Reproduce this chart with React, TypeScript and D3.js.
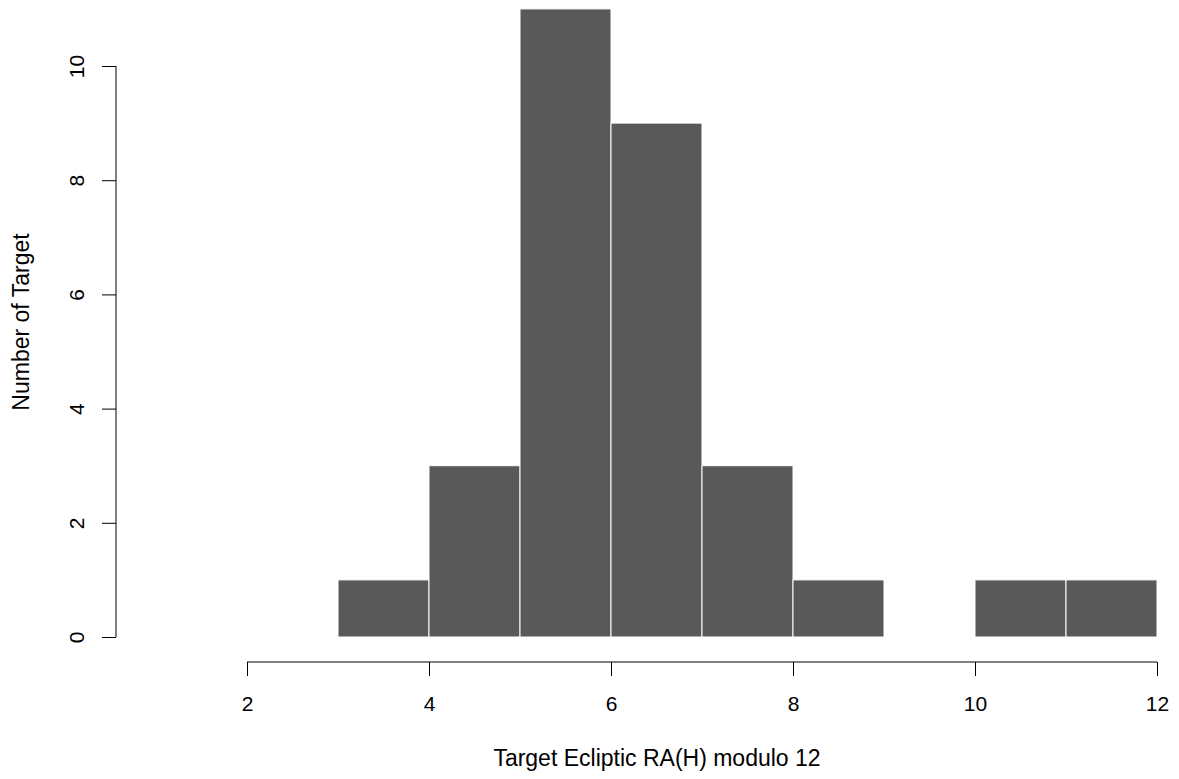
import { useEffect, useRef } from 'react';
import * as d3 from 'd3';

// Histogram bins (hours, modulo 12) and counts
const binStarts = [3, 4, 5, 6, 7, 8, 9, 10, 11];
const binCounts = [1, 3, 11, 9, 3, 1, 0, 1, 1];
const xTicks = [2, 4, 6, 8, 10, 12];
const yTicks = [0, 2, 4, 6, 8, 10];

const App = () => {
  const svgRef = useRef<SVGSVGElement>(null);

  useEffect(() => {
    const width = 1179;
    const height = 779;
    const font = 'Liberation Sans, Arial, sans-serif';

    const svg = d3.select(svgRef.current)
      .attr('width', width)
      .attr('height', height)
      .style('position', 'absolute')
      .style('left', '0px')
      .style('top', '0px')
      .style('background-color', '#ffffff');

    svg.selectAll('*').remove();

    // Scales
    const xScale = d3.scaleLinear().domain([2, 12]).range([247, 1157]);
    const yScale = d3.scaleLinear().domain([0, 10]).range([637, 66]);

    // Bars
    svg.selectAll('.bar')
      .data(binStarts)
      .enter()
      .filter((d, i) => binCounts[i] > 0)
      .append('rect')
      .attr('class', 'bar')
      .attr('x', d => xScale(d))
      .attr('y', d => yScale(binCounts[binStarts.indexOf(d)]))
      .attr('width', d => xScale(d + 1) - xScale(d))
      .attr('height', d => yScale(0) - yScale(binCounts[binStarts.indexOf(d)]))
      .attr('fill', '#595959')
      .attr('stroke', '#ffffff')
      .attr('stroke-width', 1);

    // X axis
    const xAxis = svg.append('g')
      .attr('transform', 'translate(0, 662)')
      .call(d3.axisBottom(xScale).tickValues(xTicks).tickSize(14).tickFormat(d3.format('d')));
    xAxis.select('.domain').attr('stroke', '#000').attr('d', `M${xScale(2)},0H${xScale(12)}`);
    xAxis.selectAll('.tick line').attr('stroke', '#000');
    xAxis.selectAll('text')
      .attr('y', 49)
      .attr('dy', 0)
      .style('font-family', font)
      .style('font-size', '21px')
      .attr('fill', '#000');

    // Y axis
    const yAxis = svg.append('g')
      .attr('transform', 'translate(116, 0)')
      .call(d3.axisLeft(yScale).tickValues(yTicks).tickSize(14).tickFormat(d3.format('d')));
    yAxis.select('.domain').attr('stroke', '#000').attr('d', `M0,${yScale(0)}V${yScale(10)}`);
    yAxis.selectAll('.tick line').attr('stroke', '#000');
    yAxis.selectAll('text')
      .attr('x', 0)
      .attr('y', 0)
      .attr('dy', 0)
      .attr('transform', 'translate(-32, 0) rotate(-90)')
      .attr('text-anchor', 'middle')
      .style('font-family', font)
      .style('font-size', '21px')
      .attr('fill', '#000');

    // X label
    svg.append('text')
      .attr('x', 657)
      .attr('y', 766)
      .attr('text-anchor', 'middle')
      .style('font-family', font)
      .style('font-size', '23px')
      .text('Target Ecliptic RA(H) modulo 12');

    // Y label
    svg.append('text')
      .attr('text-anchor', 'middle')
      .attr('transform', 'translate(29, 322) rotate(-90)')
      .style('font-family', font)
      .style('font-size', '23px')
      .text('Number of Target');
  }, []);

  return <svg ref={svgRef}></svg>;
};

export default App;
